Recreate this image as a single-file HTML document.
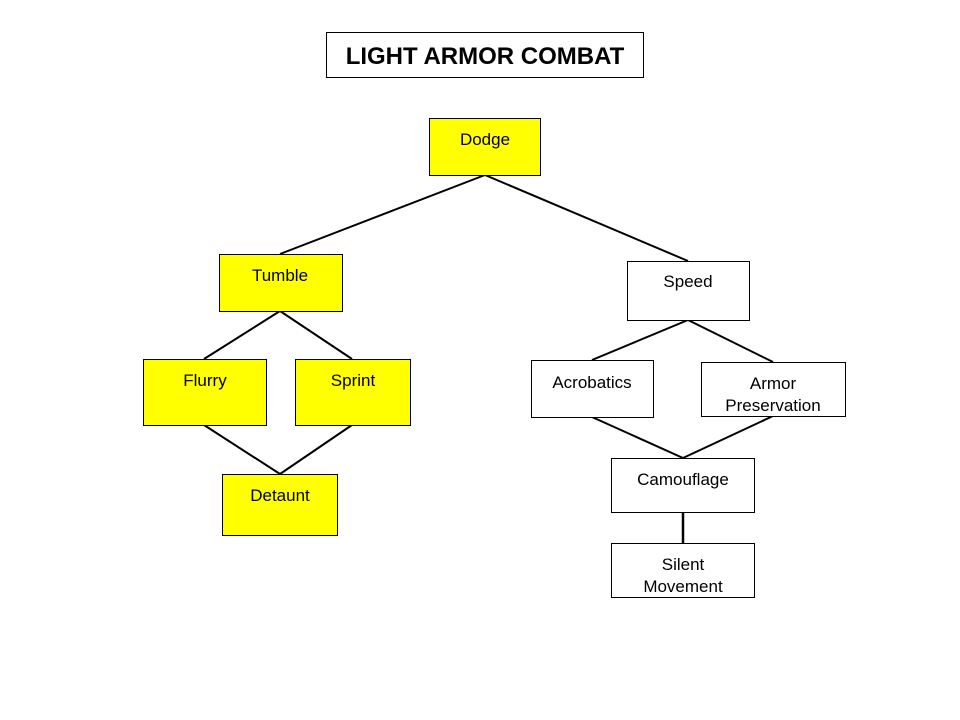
<!DOCTYPE html>
<html><head><style>body{margin:0;background:#fff}svg{display:block}text{font-family:"Liberation Sans",Arial,sans-serif;font-size:17px;fill:#000}</style></head>
<body>
<svg width="960" height="720" viewBox="0 0 960 720">
<g stroke="#000" stroke-width="2" fill="none">
<line x1="485" y1="175" x2="280" y2="254"/>
<line x1="485" y1="175" x2="688" y2="261"/>
<line x1="280" y1="311" x2="204" y2="359"/>
<line x1="280" y1="311" x2="352" y2="359"/>
<line x1="204" y1="425" x2="280" y2="474"/>
<line x1="352" y1="425" x2="280" y2="474"/>
<line x1="688" y1="320" x2="592" y2="360"/>
<line x1="688" y1="320" x2="773" y2="362"/>
<line x1="592" y1="417" x2="683" y2="458"/>
<line x1="773" y1="416" x2="683" y2="458"/>
<line x1="683" y1="512" x2="683" y2="543" stroke-width="2.5"/>
</g>
<g stroke="#000" stroke-width="1">
<rect x="326.5" y="32.5" width="317" height="45" fill="#fff"/>
<rect x="429.5" y="118.5" width="111" height="57" fill="#ffff00"/>
<rect x="219.5" y="254.5" width="123" height="57" fill="#ffff00"/>
<rect x="627.5" y="261.5" width="122" height="59" fill="#fff"/>
<rect x="143.5" y="359.5" width="123" height="66" fill="#ffff00"/>
<rect x="295.5" y="359.5" width="115" height="66" fill="#ffff00"/>
<rect x="222.5" y="474.5" width="115" height="61" fill="#ffff00"/>
<rect x="531.5" y="360.5" width="122" height="57" fill="#fff"/>
<rect x="701.5" y="362.5" width="144" height="54" fill="#fff"/>
<rect x="611.5" y="458.5" width="143" height="54" fill="#fff"/>
<rect x="611.5" y="543.5" width="143" height="54" fill="#fff"/>
</g>
<g text-anchor="middle">
<text x="485" y="64" style="font-size:24px;font-weight:bold">LIGHT ARMOR COMBAT</text>
<text x="485" y="145">Dodge</text>
<text x="280" y="281">Tumble</text>
<text x="688" y="287">Speed</text>
<text x="205" y="386">Flurry</text>
<text x="353" y="386">Sprint</text>
<text x="280" y="501">Detaunt</text>
<text x="592" y="388">Acrobatics</text>
<text x="773" y="389">Armor</text>
<text x="773" y="411">Preservation</text>
<text x="683" y="485">Camouflage</text>
<text x="683" y="570">Silent</text>
<text x="683" y="592">Movement</text>
</g>
</svg>
</body></html>
